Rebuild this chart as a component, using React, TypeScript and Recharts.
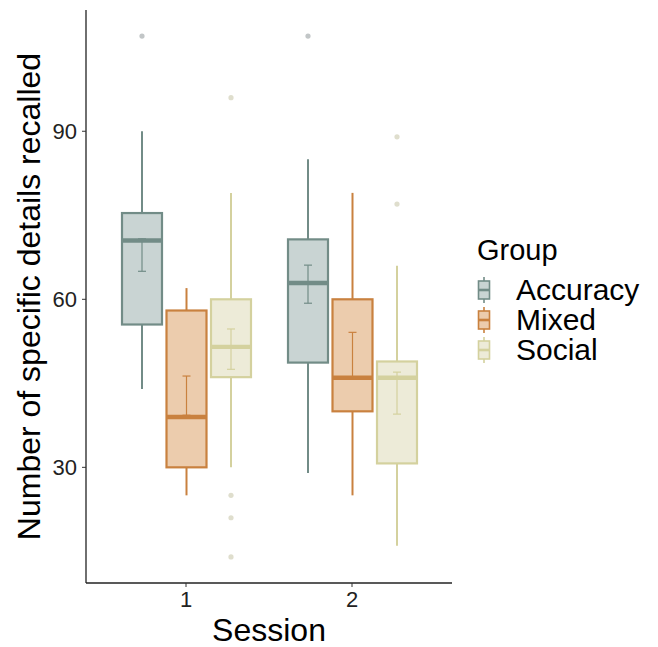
import React from "react";
import { Bar, ComposedChart, Label, XAxis, YAxis } from "recharts";

const FONT = '"Liberation Sans", Arial, Helvetica, sans-serif';

const sessions = ["1", "2"];
const groups = ["Accuracy", "Mixed", "Social"];

// per group, per session
const whiskerLow = [[44, 29], [25, 25], [30, 16]];
const q1 = [[55.5, 48.7], [30, 40], [46.1, 30.7]];
const median = [[70.5, 62.9], [39, 46], [51.5, 46]];
const q3 = [[75.4, 70.7], [58, 60], [60, 48.9]];
const whiskerHigh = [[90, 85], [62, 79], [79, 66]];
const seLow = [[65, 59.3], [39.3, 46.2], [47.5, 39.5]];
const seHigh = [[70.8, 66.1], [46.3, 54.1], [54.7, 47]];
const outliers = [
  [[107], [107]],
  [[], []],
  [[96, 25, 21, 14], [89, 77]],
];

const yTicks = [30, 60, 90];

const COLORS = [
  { stroke: "#728c87", fill: "#c9d4d3", dot: "#c2c6c7" },
  { stroke: "#c9813f", fill: "#ecccad", dot: "#e6c9ad" },
  { stroke: "#d4d19e", fill: "#edebd8", dot: "#dfdecd" },
];

const data = sessions.map((s, i) => {
  const row: Record<string, unknown> = { session: s };
  groups.forEach((g, gi) => {
    row[g] = [q1[gi][i], q3[gi][i]];
  });
  return row;
});

const makeBoxShape = (gi: number) => (props: any) => {
  const { x, y, width, height, payload } = props;
  const i = sessions.indexOf(payload.session);
  if (i < 0) return <g />;
  const lo = q1[gi][i];
  const hi = q3[gi][i];
  const top = Math.min(y, y + height);
  const k = Math.abs(height) / (hi - lo);
  const py = (v: number) => top + (hi - v) * k;
  const cx = x + width / 2;
  const c = COLORS[gi];
  const cap = 4;
  return (
    <g>
      <line x1={cx} x2={cx} y1={py(whiskerHigh[gi][i])} y2={py(hi)} stroke={c.stroke} strokeWidth={2} />
      <line x1={cx} x2={cx} y1={py(lo)} y2={py(whiskerLow[gi][i])} stroke={c.stroke} strokeWidth={2} />
      <rect x={x} y={top} width={width} height={Math.abs(height)} fill={c.fill} stroke={c.stroke} strokeWidth={2.2} />
      <line x1={cx} x2={cx} y1={py(seHigh[gi][i])} y2={py(seLow[gi][i])} stroke={c.stroke} strokeWidth={1.2} />
      <line x1={cx - cap} x2={cx + cap} y1={py(seHigh[gi][i])} y2={py(seHigh[gi][i])} stroke={c.stroke} strokeWidth={1.2} />
      <line x1={cx - cap} x2={cx + cap} y1={py(seLow[gi][i])} y2={py(seLow[gi][i])} stroke={c.stroke} strokeWidth={1.2} />
      <line x1={x} x2={x + width} y1={py(median[gi][i])} y2={py(median[gi][i])} stroke={c.stroke} strokeWidth={4.4} />
      {outliers[gi][i].map((v, j) => (
        <circle key={j} cx={cx} cy={py(v)} r={2.6} fill={c.dot} />
      ))}
    </g>
  );
};

const KeyIcon = ({ gi }: { gi: number }) => {
  const c = COLORS[gi];
  return (
    <svg width={14} height={28} style={{ display: "block" }}>
      <line x1={7} x2={7} y1={1} y2={27} stroke={c.stroke} strokeWidth={1.6} />
      <rect x={1.5} y={5} width={11} height={18} fill={c.fill} stroke={c.stroke} strokeWidth={1.6} />
      <line x1={1.5} x2={12.5} y1={14} y2={14} stroke={c.stroke} strokeWidth={2.6} />
    </svg>
  );
};

export default function App() {
  return (
    <div style={{ position: "absolute", left: 0, top: 0, width: 658, height: 647, background: "#fff", fontFamily: FONT }}>
      <ComposedChart
        width={658}
        height={647}
        data={data}
        margin={{ top: 10, right: 206, left: 0, bottom: 0 }}
        barGap={4.5}
      >
        <XAxis
          dataKey="session"
          padding={{ left: 17, right: 17 }}
          height={64}
          tick={{ fontSize: 22, fill: "#222", fontFamily: FONT }}
          tickLine={{ stroke: "#333" }}
          tickSize={4}
          tickMargin={4}
          axisLine={{ stroke: "#222", strokeWidth: 1.3 }}
        >
          <Label
            content={({ viewBox }: any) => (
              <text x={viewBox.x + viewBox.width / 2} y={641} textAnchor="middle" fontSize={32} fill="#000" fontFamily={FONT}>
                Session
              </text>
            )}
          />
        </XAxis>
        <YAxis
          type="number"
          width={86}
          domain={[9.35, 111.65]}
          ticks={yTicks}
          allowDataOverflow
          tick={{ fontSize: 22, fill: "#222", fontFamily: FONT }}
          tickLine={{ stroke: "#333" }}
          tickSize={4}
          tickMargin={5}
          axisLine={{ stroke: "#222", strokeWidth: 1.3 }}
        >
          <Label
            content={({ viewBox }: any) => {
              const cy = viewBox.y + viewBox.height / 2;
              return (
                <text x={40} y={cy} transform={`rotate(-90, 40, ${cy})`} textAnchor="middle" fontSize={32} fill="#000" fontFamily={FONT}>
                  Number of specific details recalled
                </text>
              );
            }}
          />
        </YAxis>
        {groups.map((g, gi) => (
          <Bar key={g} dataKey={g} barSize={40} shape={makeBoxShape(gi)} isAnimationActive={false} />
        ))}
      </ComposedChart>
      <div style={{ position: "absolute", left: 477, top: 232, color: "#000" }}>
        <div style={{ fontSize: 29, lineHeight: "36px", marginBottom: 7 }}>Group</div>
        {groups.map((g, gi) => (
          <div key={g} style={{ display: "flex", alignItems: "center", height: 30 }}>
            <KeyIcon gi={gi} />
            <span style={{ fontSize: 30, lineHeight: "30px", marginLeft: 25 }}>{g}</span>
          </div>
        ))}
      </div>
    </div>
  );
}
